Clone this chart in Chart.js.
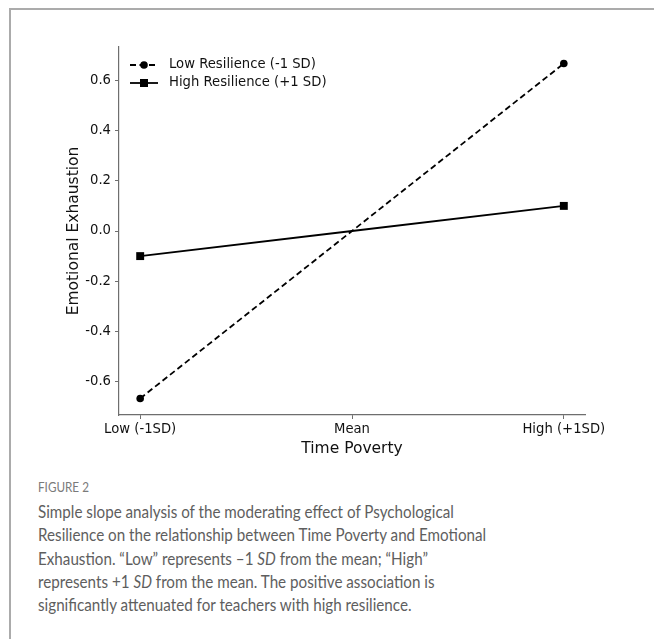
<!DOCTYPE html>
<html>
<head>
<meta charset="utf-8">
<script src="https://cdn.jsdelivr.net/npm/chart.js@4.4.1/dist/chart.umd.min.js"></script>
<style>
  body { margin: 0; background: #fff; }
  #wrap { position: relative; width: 654px; height: 639px; overflow: hidden; }
  #frame {
    position: absolute; left: 9px; top: 8px; right: -10px; bottom: -10px;
    border-top: 2px solid #ababab; border-left: 2px solid #ababab;
  }
  #chart { position: absolute; left: 0; top: 0; }
  .fig-label {
    position: absolute; left: 38px; top: 478px; height: 18px; line-height: 18px;
    font-family: Lato, "Open Sans", sans-serif; font-size: 13px; color: #7a7a7a;
    transform: scaleX(0.9); transform-origin: left center;
  }
  .fig-text {
    position: absolute; left: 38px; top: 500px; line-height: 23.3px;
    font-family: Lato, "Open Sans", sans-serif; font-size: 17px; color: #5e5e5e;
    white-space: nowrap;
    transform: scaleX(0.894); transform-origin: left top;
  }
</style>
</head>
<body>
<div id="wrap">
  <div id="frame"></div>
  <canvas id="chart" width="654" height="470"></canvas>
  <div class="fig-label">FIGURE 2</div>
  <div class="fig-text">
    Simple slope analysis of the moderating effect of Psychological<br>
    Resilience on the relationship between Time Poverty and Emotional<br>
    Exhaustion. “Low” represents –1 <i>SD</i> from the mean; “High”<br>
    represents +1 <i>SD</i> from the mean. The positive association is<br>
    significantly attenuated for teachers with high resilience.
  </div>
</div>
<script>
// data
const xLabels = ["Low (-1SD)", "Mean", "High (+1SD)"];
const xPositions = [0, 1, 2];
const lowResilience = [-0.667, 0, 0.667];
const highResilience = [-0.1, 0, 0.1];
const yTicks = [-0.6, -0.4, -0.2, 0.0, 0.2, 0.4, 0.6];
const seriesNames = ["Low Resilience (-1 SD)", "High Resilience (+1 SD)"];

const TEXT = "#111";
const AXIS = "#6e6e6e";
const FONT = "'DejaVu Sans', sans-serif";
const TICK_SIZE = 13.2;

const toPoints = (values) => values.map((v, i) => ({ x: xPositions[i], y: v }));

// matplotlib-style legend drawn inside the plot area
const insideLegend = {
  id: "insideLegend",
  afterDraw(chart) {
    const { ctx, chartArea } = chart;
    ctx.save();
    chart.data.datasets.forEach((ds, i) => {
      const y = chartArea.top + 18 + i * 18;
      const x0 = chartArea.left + 11;
      const x1 = x0 + 28;
      const xm = (x0 + x1) / 2;
      ctx.strokeStyle = ds.borderColor;
      ctx.lineWidth = ds.borderWidth;
      ctx.setLineDash(ds.borderDash || []);
      ctx.beginPath();
      ctx.moveTo(x0, y);
      ctx.lineTo(x1, y);
      ctx.stroke();
      ctx.setLineDash([]);
      ctx.fillStyle = ds.backgroundColor;
      if (ds.pointStyle === "rect") {
        ctx.fillRect(xm - 4, y - 4, 8, 8);
      } else {
        ctx.beginPath();
        ctx.arc(xm, y, 3.8, 0, Math.PI * 2);
        ctx.fill();
      }
      ctx.fillStyle = TEXT;
      ctx.font = TICK_SIZE + "px " + FONT;
      ctx.textBaseline = "middle";
      ctx.fillText(ds.label, x1 + 11, y);
    });
    ctx.restore();
  },
};

new Chart(document.getElementById("chart"), {
  type: "line",
  data: {
    datasets: [
      {
        label: seriesNames[0],
        data: toPoints(lowResilience),
        borderColor: "#000",
        backgroundColor: "#000",
        borderWidth: 1.8,
        borderDash: [6, 3.5],
        pointStyle: "circle",
        pointRadius: [3.8, 0, 3.8],
        pointBorderWidth: 0,
      },
      {
        label: seriesNames[1],
        data: toPoints(highResilience),
        borderColor: "#000",
        backgroundColor: "#000",
        borderWidth: 1.8,
        pointStyle: "rect",
        pointRadius: [5.6, 0, 5.6],
        pointBorderWidth: 0,
      },
    ],
  },
  options: {
    responsive: false,
    animation: false,
    layout: { padding: { top: 47, right: 69, left: 65, bottom: 0 } },
    plugins: {
      legend: { display: false },
      tooltip: { enabled: false },
    },
    scales: {
      x: {
        type: "linear",
        min: -0.1,
        max: 2.1,
        afterBuildTicks: (scale) => {
          scale.ticks = xPositions.map((v) => ({ value: v }));
        },
        afterFit: (scale) => {
          scale.height = 55;
        },
        grid: {
          drawOnChartArea: false,
          drawTicks: true,
          tickLength: 4,
          tickColor: AXIS,
        },
        border: { color: AXIS, width: 1.2 },
        ticks: {
          color: TEXT,
          font: { family: FONT, size: TICK_SIZE },
          padding: 3,
          maxRotation: 0,
          autoSkip: false,
          callback: (v) => xLabels[xPositions.indexOf(v)],
        },
        title: {
          display: true,
          text: "Time Poverty",
          color: TEXT,
          font: { family: FONT, size: 15.5 },
          padding: { top: 0, bottom: 12 },
        },
      },
      y: {
        min: -0.733,
        max: 0.733,
        afterBuildTicks: (scale) => {
          scale.ticks = yTicks.map((v) => ({ value: v }));
        },
        afterFit: (scale) => {
          scale.width = 54;
        },
        grid: {
          drawOnChartArea: false,
          drawTicks: true,
          tickLength: 4,
          tickColor: AXIS,
        },
        border: { color: AXIS, width: 1.2 },
        ticks: {
          color: TEXT,
          font: { family: FONT, size: TICK_SIZE },
          padding: 4,
          callback: (v) => v.toFixed(1),
        },
        title: {
          display: true,
          text: "Emotional Exhaustion",
          color: TEXT,
          font: { family: FONT, size: 15.5 },
          padding: 0,
        },
      },
    },
  },
  plugins: [insideLegend],
});
</script>
</body>
</html>
